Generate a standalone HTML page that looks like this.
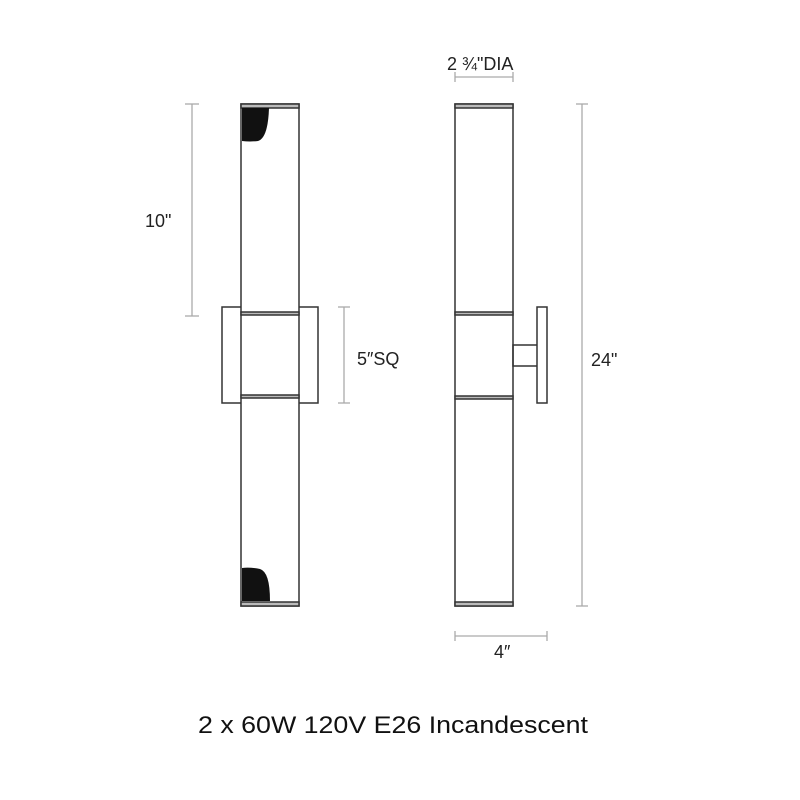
<!DOCTYPE html>
<html><head><style>body{margin:0;background:#fff}svg{display:block}</style></head><body>
<svg width="800" height="800" viewBox="0 0 800 800" xmlns="http://www.w3.org/2000/svg" font-family="Liberation Sans, sans-serif">
<rect width="800" height="800" fill="#fff"/>
<g stroke="#aaa" stroke-width="1.3" fill="none">
<line x1="192" y1="104" x2="192" y2="316"/><line x1="185" y1="104" x2="199" y2="104"/><line x1="185" y1="316" x2="199" y2="316"/>
<line x1="344" y1="307" x2="344" y2="403"/><line x1="338" y1="307" x2="350" y2="307"/><line x1="338" y1="403" x2="350" y2="403"/>
<line x1="582" y1="104" x2="582" y2="606"/><line x1="576" y1="104" x2="588" y2="104"/><line x1="576" y1="606" x2="588" y2="606"/>
<line x1="455" y1="77" x2="513" y2="77"/><line x1="455" y1="72" x2="455" y2="82"/><line x1="513" y1="72" x2="513" y2="82"/>
<line x1="455" y1="636" x2="547" y2="636"/><line x1="455" y1="631" x2="455" y2="641"/><line x1="547" y1="631" x2="547" y2="641"/>
</g>
<g stroke="#333" stroke-width="1.5" fill="none">
<rect x="222" y="307" width="96" height="96" fill="#fff"/>
<rect x="241" y="104" width="58" height="502" fill="#fff"/>
<rect x="241" y="104" width="58" height="4" fill="#bbb"/>
<rect x="241" y="602" width="58" height="4" fill="#bbb"/>
<rect x="241" y="312" width="58" height="3" fill="#bbb"/>
<rect x="241" y="395" width="58" height="3" fill="#bbb"/>
<rect x="455" y="104" width="58" height="502" fill="#fff"/>
<rect x="455" y="104" width="58" height="4" fill="#bbb"/>
<rect x="455" y="602" width="58" height="4" fill="#bbb"/>
<rect x="455" y="312" width="58" height="3" fill="#bbb"/>
<rect x="455" y="396" width="58" height="3" fill="#bbb"/>
<rect x="513" y="345" width="25" height="21"/>
<rect x="537" y="307" width="10" height="96" fill="#fff"/>
</g>
<path d="M242 108 H269 Q268 138 258 141 Q250 142 242 141 Z" fill="#111"/>
<path d="M242 601 H270 Q270 572 260 569 Q250 567 242 568 Z" fill="#111"/>
<g fill="#222" font-size="18">
<text x="145" y="227">10"</text>
<text x="357" y="365">5″SQ</text>
<text x="591" y="366">24"</text>
<text x="447" y="70">2 ¾"DIA</text>
<text x="494" y="658">4″</text>
</g>
<text x="198" y="733" font-size="24" fill="#111" textLength="390" lengthAdjust="spacingAndGlyphs">2 x 60W 120V E26 Incandescent</text>
</svg>
</body></html>
